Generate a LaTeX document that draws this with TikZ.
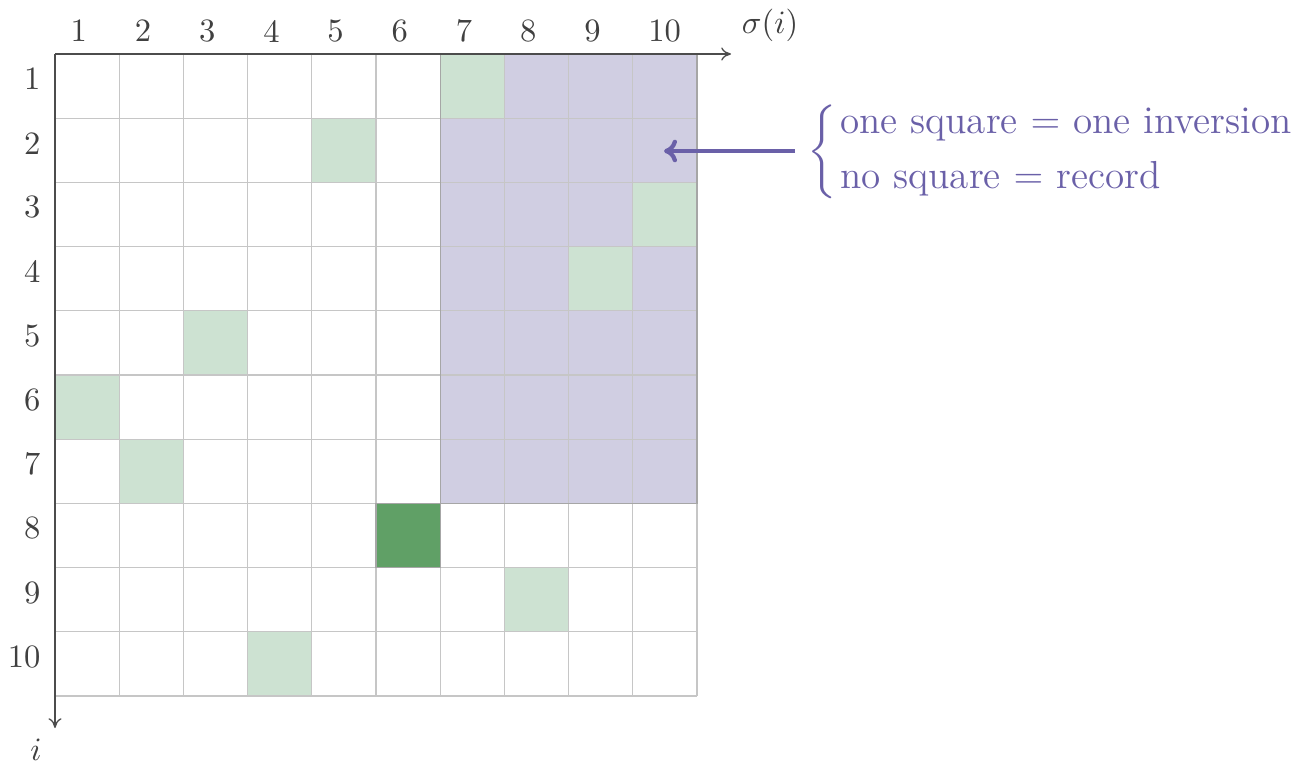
\documentclass[tikz,border=0pt]{standalone}
\usepackage{amsmath}
\usetikzlibrary{arrows.meta}
\definecolor{lgreen}{HTML}{CDE2D2}
\definecolor{dgreen}{HTML}{60A066}
\definecolor{lpurple}{HTML}{D0CEE2}
\definecolor{dpurple}{HTML}{6A60A8}
\definecolor{gridgray}{HTML}{C6C6C6}
\begin{document}
\begin{tikzpicture}[x=0.307pt,y=-0.307pt,
  lbl/.style={inner sep=0pt,font=\normalsize,text=black!75},
  axis/.style={draw=black!70,line width=0.4pt,-{To[length=3pt,width=4pt]}},
  gridline/.style={gridgray,line width=0.4pt}]
\useasboundingbox (0,0) rectangle (1300,766);
\def\cs{64.2}
% purple region
\fill[lpurple] (55+6*\cs,54) rectangle (55+10*\cs,54+7*\cs);
% permutation cells: row -> column
\foreach \r/\c in {1/7,2/5,3/10,4/9,5/3,6/1,7/2,9/8,10/4}{
  \fill[lgreen] (55+\c*\cs-\cs,54+\r*\cs-\cs) rectangle (55+\c*\cs,54+\r*\cs);
}
\fill[dgreen] (55+5*\cs,54+7*\cs) rectangle (55+6*\cs,54+8*\cs);
% grid
\foreach \k in {1,...,10}{
  \draw[gridline] (55+\k*\cs,54) -- (55+\k*\cs,54+10*\cs);
  \draw[gridline] (55,54+\k*\cs) -- (55+10*\cs,54+\k*\cs);
}
\draw[black!35,line width=0.4pt] (55+6*\cs,54) -- (55+6*\cs,54+7*\cs) -- (55+10*\cs,54+7*\cs) -- (55+10*\cs,54);
\draw[black!35,line width=0.4pt] (55+5*\cs,54+7*\cs) rectangle (55+6*\cs,54+8*\cs);
% axes
\coordinate (O) at (55,54);
\coordinate (xend) at (731,54);
\coordinate (yend) at (55,728);
\draw[axis] (O) -- (xend);
\draw[axis] (O) -- (yend);
\node[lbl] (xlab) at (770,25) {$\sigma(i)$};
\node[lbl] (ylab) at (36,750) {$i$};
% labels
\foreach \k in {1,...,10}{
  \node[lbl,anchor=west] (c\k) at (70+\k*\cs-\cs,31) {\k};
  \node[lbl,anchor=east] (r\k) at (41,79+\k*\cs-\cs) {\k};
}
% annotation
\node[text=dpurple,font=\large,inner sep=0pt,anchor=west] (note) at (807,152)
  {$\left\{\hspace{1pt}\begin{tabular}{@{}l@{}}one square $=$ one inversion\\[3pt] no square $=$ record\end{tabular}\right.$};
\coordinate (tip) at (664,151);
\draw[dpurple,line width=1.3pt,-{To[length=4pt,width=7pt]}] (note.west) ++(-12,-1) coordinate (tail) (tail) -- (tip);
\end{tikzpicture}
\end{document}
